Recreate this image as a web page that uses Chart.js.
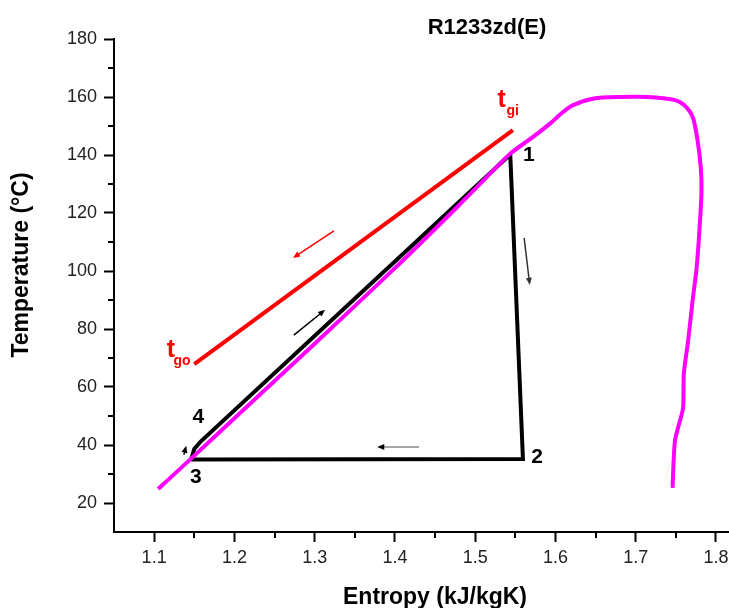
<!DOCTYPE html>
<html>
<head>
<meta charset="utf-8">
<title>R1233zd(E) T-s diagram</title>
<script src="https://cdn.jsdelivr.net/npm/chart.js@4.4.1/dist/chart.umd.min.js"></script>
<style>
    html, body { margin: 0; padding: 0; background: #fff; }
    #wrap { width: 729px; height: 608px; }
</style>
</head>
<body>
<div id="wrap"><canvas id="tsChart" width="729" height="608"></canvas></div>
<script>
// Saturation dome of R1233zd(E): entropy (kJ/kgK) and temperature (°C)
const domeS = [1.105, 1.146, 1.200, 1.300, 1.395, 1.450, 1.500, 1.543, 1.570, 1.594, 1.608, 1.622,
               1.648, 1.680, 1.715, 1.748, 1.760, 1.771, 1.777, 1.781, 1.782, 1.780, 1.776, 1.771,
               1.765, 1.760, 1.759, 1.753, 1.749, 1.747, 1.746];
const domeT = [24.8, 35.3, 49.2, 74.9, 99.7, 114.5, 128.3, 140.3, 145.8, 151.0, 154.5, 157.2,
               159.5, 160.0, 160.0, 159.0, 157.3, 153.1, 145.2, 135.9, 127.9, 116.6, 101.4, 90.0,
               75.2, 64.8, 52.8, 46.2, 41.7, 33.0, 25.2];

// Cycle 3 -> 4 -> 1 -> 2 -> 3
const cycleS = [1.146, 1.150, 1.158, 1.5437, 1.5595, 1.146];
const cycleT = [35.0, 38.6, 41.2, 140.2, 35.2, 35.0];

// Heat source line, outlet (tgo) to inlet (tgi)
const gasS = [1.150, 1.547];
const gasT = [67.9, 148.6];

const xTicks = [1.1, 1.2, 1.3, 1.4, 1.5, 1.6, 1.7, 1.8];
const xMinor = [1.15, 1.25, 1.35, 1.45, 1.55, 1.65, 1.75];
const yTicks = [20, 40, 60, 80, 100, 120, 140, 160, 180];
const yMinor = [30, 50, 70, 90, 110, 130, 150, 170];

// State point numbers
const pointNames = ['1', '2', '3', '4'];
const pointS = [1.567, 1.577, 1.152, 1.155];
const pointT = [140.0, 35.9, 29.0, 49.7];

// Gas temperatures: t with subscript
const gasNames = ['gi', 'go'];
const gasLabelS = [1.533, 1.121];
const gasLabelT = [159.0, 72.8];

// Flow direction arrows
const arrowFromS = [1.324, 1.274, 1.561, 1.430, 1.137];
const arrowFromT = [113.8, 77.9, 111.4, 39.3, 36.6];
const arrowToS   = [1.273, 1.313, 1.568, 1.378, 1.140];
const arrowToT   = [104.5, 86.6, 95.2, 39.3, 39.7];
const arrowColors = ['#ff0000', '#000000', '#333333', '#888888', '#000000'];

Chart.defaults.font.family = "'Liberation Sans', Arial, sans-serif";

function toPoints(xs, ys) {
    return xs.map((v, i) => ({ x: v, y: ys[i] }));
}

function drawArrow(ctx, x0, y0, x1, y1, color) {
    const ang = Math.atan2(y1 - y0, x1 - x0);
    const head = 7;
    ctx.strokeStyle = color;
    ctx.lineWidth = 1.5;
    ctx.beginPath();
    ctx.moveTo(x0, y0);
    ctx.lineTo(x1 - Math.cos(ang) * head * 0.6, y1 - Math.sin(ang) * head * 0.6);
    ctx.stroke();
    ctx.fillStyle = color === '#888888' ? '#000' : color;
    ctx.beginPath();
    ctx.moveTo(x1, y1);
    ctx.lineTo(x1 - head * Math.cos(ang) + 3 * Math.sin(ang), y1 - head * Math.sin(ang) - 3 * Math.cos(ang));
    ctx.lineTo(x1 - head * Math.cos(ang) - 3 * Math.sin(ang), y1 - head * Math.sin(ang) + 3 * Math.cos(ang));
    ctx.closePath();
    ctx.fill();
}

// Minor ticks, arrows, labels and titles
const overlay = {
    id: 'overlay',
    afterDatasetsDraw(chart) {
        const { ctx, scales: { x, y } } = chart;
        ctx.save();
        arrowFromS.forEach((s, i) => {
            drawArrow(ctx,
                x.getPixelForValue(s), y.getPixelForValue(arrowFromT[i]),
                x.getPixelForValue(arrowToS[i]), y.getPixelForValue(arrowToT[i]),
                arrowColors[i]);
        });

        ctx.fillStyle = '#000';
        ctx.font = "bold 21px 'Liberation Sans', Arial, sans-serif";
        ctx.textAlign = 'center';
        ctx.textBaseline = 'middle';
        pointNames.forEach((n, i) => {
            ctx.fillText(n, x.getPixelForValue(pointS[i]), y.getPixelForValue(pointT[i]));
        });

        ctx.fillStyle = '#ff0000';
        gasNames.forEach((n, i) => {
            const px = x.getPixelForValue(gasLabelS[i]);
            const py = y.getPixelForValue(gasLabelT[i]);
            ctx.font = "bold 25px 'Liberation Sans', Arial, sans-serif";
            ctx.fillText('t', px, py);
            ctx.font = "bold 14px 'Liberation Sans', Arial, sans-serif";
            ctx.fillText(n, px + 11, py + 11);
        });
        ctx.restore();
    },
    afterDraw(chart) {
        const { ctx, chartArea: area, scales: { x, y } } = chart;
        ctx.save();
        ctx.strokeStyle = '#000';
        ctx.lineWidth = 2;
        ctx.beginPath();
        xMinor.forEach(v => {
            const px = Math.round(x.getPixelForValue(v));
            ctx.moveTo(px, area.bottom);
            ctx.lineTo(px, area.bottom + 6);
        });
        yMinor.forEach(v => {
            const py = Math.round(y.getPixelForValue(v));
            ctx.moveTo(area.left, py);
            ctx.lineTo(area.left - 6, py);
        });
        ctx.stroke();

        ctx.fillStyle = '#000';
        ctx.textAlign = 'center';
        ctx.textBaseline = 'middle';
        ctx.font = "bold 22px 'Liberation Sans', Arial, sans-serif";
        ctx.fillText('R1233zd(E)', area.left + 373, 28);
        ctx.font = "bold 23px 'Liberation Sans', Arial, sans-serif";
        ctx.fillText('Entropy (kJ/kgK)', area.left + 321, 598);
        ctx.translate(22, 265);
        ctx.rotate(-Math.PI / 2);
        ctx.fillText('Temperature (°C)', 0, 0);
        ctx.restore();
    }
};

new Chart(document.getElementById('tsChart'), {
    type: 'scatter',
    data: {
        datasets: [
            {
                label: 'Saturation',
                data: toPoints(domeS, domeT),
                showLine: true,
                borderColor: '#ff00ff',
                borderWidth: 4,
                pointRadius: 0,
                tension: 0.25
            },
            {
                label: 'Cycle',
                data: toPoints(cycleS, cycleT),
                showLine: true,
                borderColor: '#000000',
                borderWidth: 4,
                pointRadius: 0,
                tension: 0
            },
            {
                label: 'Heat source',
                data: toPoints(gasS, gasT),
                showLine: true,
                borderColor: '#ff0000',
                borderWidth: 4,
                pointRadius: 0,
                tension: 0
            }
        ]
    },
    options: {
        responsive: false,
        animation: false,
        layout: { padding: { top: 39, right: 1, bottom: 0, left: 0 } },
        plugins: {
            legend: { display: false },
            tooltip: { enabled: false },
            title: { display: false }
        },
        scales: {
            x: {
                type: 'linear',
                min: 1.05,
                max: 1.815,
                afterBuildTicks: s => { s.ticks = xTicks.map(v => ({ value: v })); },
                afterFit: s => { s.height = 76; s.paddingLeft = 0; s.paddingRight = 0; },
                border: { color: '#000', width: 2 },
                grid: { drawOnChartArea: false, tickLength: 10, tickWidth: 2, tickColor: '#000' },
                ticks: { padding: 5, color: '#222', font: { size: 18 }, callback: v => v.toFixed(1) }
            },
            y: {
                type: 'linear',
                min: 10,
                max: 180,
                afterBuildTicks: s => { s.ticks = yTicks.map(v => ({ value: v })); },
                afterFit: s => { s.width = 114; s.paddingTop = 0; s.paddingBottom = 0; },
                border: { color: '#000', width: 2 },
                grid: { drawOnChartArea: false, tickLength: 10, tickWidth: 2, tickColor: '#000' },
                ticks: { padding: 7, color: '#222', font: { size: 18 } }
            }
        }
    },
    plugins: [overlay]
});
</script>
</body>
</html>
